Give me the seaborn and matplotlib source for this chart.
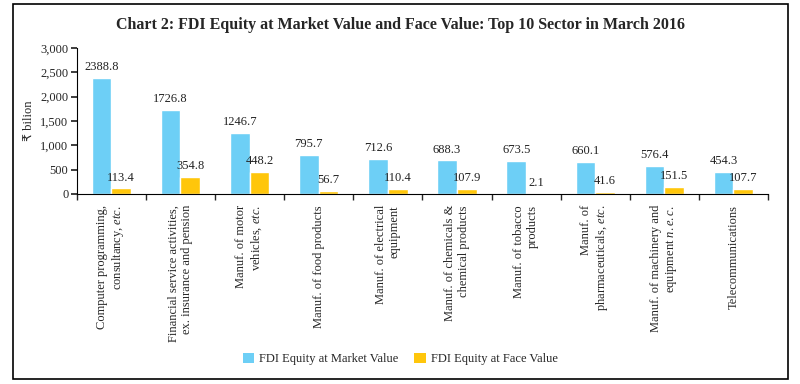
import matplotlib
matplotlib.use("Agg")
import matplotlib.pyplot as plt
import seaborn as sns
import pandas as pd
from matplotlib.patches import Rectangle, Patch
from matplotlib.ticker import FuncFormatter, FixedLocator

sectors = [
    "Computer programming,\nconsultancy, $\\it{etc.}$",
    "Financial service activities,\nex. insurance and pension",
    "Manuf. of motor\nvehicles, $\\it{etc.}$",
    "Manuf. of food products",
    "Manuf. of electrical\nequipment",
    "Manuf. of chemicals &\nchemical products",
    "Manuf. of tobacco\nproducts",
    "Manuf. of\npharmaceuticals, $\\it{etc.}$",
    "Manuf. of machinery and\nequipment $\\it{n.e.c.}$",
    "Telecommunications",
]
market_value = [2388.8, 1726.8, 1246.7, 795.7, 712.6, 688.3, 673.5, 660.1, 576.4, 454.3]
face_value = [113.4, 354.8, 448.2, 56.7, 110.4, 107.9, 2.1, 41.6, 151.5, 107.7]
series_names = ["FDI Equity at Market Value", "FDI Equity at Face Value"]
colors = ["#6DCFF6", "#FFC60B"]

sns.set_theme(style="white")
plt.rcParams["font.family"] = ["Liberation Serif", "DejaVu Sans"]
plt.rcParams["mathtext.fontset"] = "custom"
plt.rcParams["mathtext.it"] = "Liberation Serif:italic"
plt.rcParams["mathtext.rm"] = "Liberation Serif"

idx = list(range(len(sectors)))
df = pd.DataFrame({
    "pos": idx * 2,
    "value": market_value + face_value,
    "series": [series_names[0]] * len(idx) + [series_names[1]] * len(idx),
})

fig = plt.figure(figsize=(8, 3.84), dpi=100)
ax = fig.add_axes([0.096, 0.495, 0.864, 0.38])

sns.barplot(data=df, x="pos", y="value", hue="series", palette=colors,
            width=0.57, ax=ax, legend=False, saturation=1, order=idx)

for cont, vals in zip(ax.containers, [market_value, face_value]):
    for bar, v in zip(cont, vals):
        ax.annotate(f"{v:.1f}", (bar.get_x() + bar.get_width() / 2, bar.get_height()),
                    xytext=(0, 3.5), textcoords="offset points", ha="center", va="bottom",
                    fontsize=9, color="#222222")

ax.set_xlim(-0.5, len(sectors) - 0.5)
ax.set_ylim(0, 3000)
ax.set_yticks(range(0, 3001, 500))
ax.yaxis.set_major_formatter(FuncFormatter(lambda v, p: f"{int(v):,}"))
ax.tick_params(axis="y", which="major", length=4, direction="out", left=True, labelsize=9, pad=2)

ax.set_xticks(idx)
ax.set_xticklabels(sectors, rotation=90, ha="center", va="top", multialignment="right", fontsize=9)
ax.tick_params(axis="x", which="major", length=0, pad=8)
ax.xaxis.set_minor_locator(FixedLocator([i - 0.5 for i in range(len(sectors) + 1)]))
ax.tick_params(axis="x", which="minor", length=4, direction="out", bottom=True)

ax.set_xlabel("")
ax.set_ylabel("₹ bilion", fontsize=9, labelpad=4)
for s in ["top", "right"]:
    ax.spines[s].set_visible(False)
for s in ["left", "bottom"]:
    ax.spines[s].set_color("black")
    ax.spines[s].set_linewidth(0.8)

fig.text(0.5, 0.935, "Chart 2: FDI Equity at Market Value and Face Value: Top 10 Sector in March 2016",
         ha="center", va="center", fontsize=11.5, fontweight="bold")

handles = [Patch(facecolor=c, edgecolor="none") for c in colors]
fig.legend(handles, series_names, loc="center", bbox_to_anchor=(0.5, 0.065), ncol=2,
           frameon=False, fontsize=9, handlelength=0.9, handleheight=0.9,
           columnspacing=1.3, handletextpad=0.4)

fig.patches.append(Rectangle((0.016, 0.013), 0.969, 0.977, transform=fig.transFigure,
                             fill=False, edgecolor="black", linewidth=1.2))

fig.savefig("out.png", dpi=100)
